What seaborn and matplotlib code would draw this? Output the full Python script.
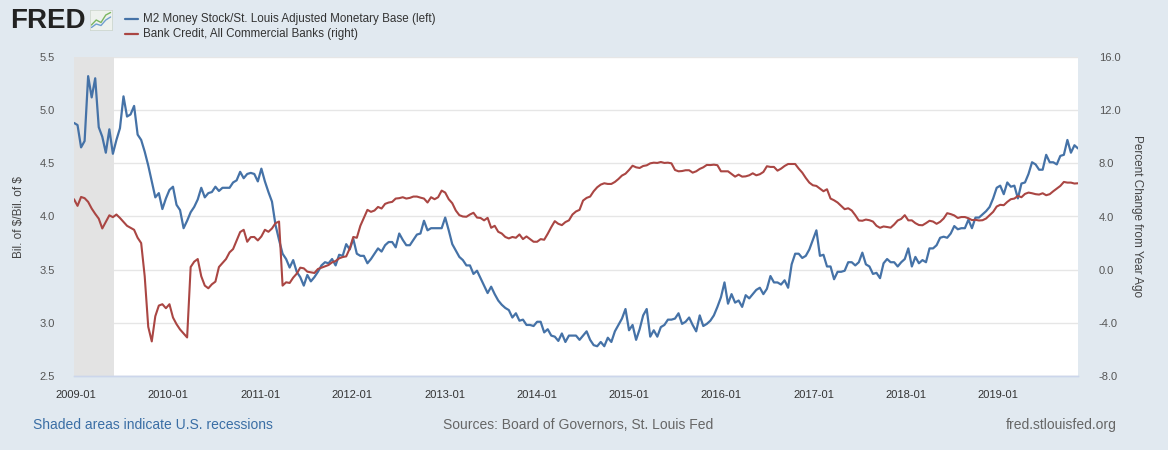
import matplotlib.pyplot as plt
import matplotlib.dates as mdates
from matplotlib.lines import Line2D
import pandas as pd
import seaborn as sns

# M2 / St. Louis adjusted monetary base, biweekly (left axis)
ratio_2009_10 = [4.88, 4.86, 4.65, 4.71, 5.32, 5.12, 5.30, 4.84, 4.75, 4.60,
                 4.82, 4.59, 4.72, 4.83, 5.13, 4.94, 4.96, 5.04, 4.77, 4.72,
                 4.61, 4.48, 4.33, 4.18, 4.22, 4.07, 4.17, 4.25, 4.28, 4.11,
                 4.06, 3.89, 3.96, 4.04, 4.09, 4.16, 4.27, 4.18, 4.22, 4.23,
                 4.28, 4.24, 4.27, 4.27, 4.27, 4.32, 4.34, 4.42, 4.36, 4.40,
                 4.41, 4.40, 4.33, 4.45]
ratio_2011_12 = [4.33, 4.23, 4.14, 3.92, 3.78, 3.65, 3.60, 3.52, 3.59, 3.48,
                 3.43, 3.35, 3.45, 3.39, 3.43, 3.48, 3.54, 3.57, 3.56, 3.60,
                 3.54, 3.64, 3.63, 3.74, 3.69, 3.79, 3.65, 3.63, 3.63, 3.56,
                 3.60, 3.65, 3.70, 3.67, 3.73, 3.76, 3.76, 3.71, 3.84, 3.78,
                 3.73, 3.73, 3.78, 3.83, 3.84, 3.96, 3.87, 3.89, 3.89, 3.89,
                 3.89, 3.99]
ratio_2013_14 = [3.87, 3.74, 3.68, 3.62, 3.59, 3.54, 3.54, 3.46, 3.49, 3.42,
                 3.35, 3.28, 3.34, 3.27, 3.21, 3.17, 3.14, 3.12, 3.05, 3.09,
                 3.02, 3.03, 2.98, 2.98, 2.97, 3.01, 3.01, 2.91, 2.94, 2.88,
                 2.87, 2.83, 2.90, 2.82, 2.88, 2.88, 2.88, 2.84, 2.88, 2.92,
                 2.84, 2.79, 2.78, 2.82, 2.78, 2.86, 2.82, 2.92, 2.98, 3.04,
                 3.13, 2.93]
ratio_2015_16 = [2.98, 2.84, 2.94, 3.07, 3.13, 2.87, 2.93, 2.87, 2.96, 2.98,
                 3.03, 3.03, 3.04, 3.09, 2.99, 3.01, 3.05, 2.98, 2.92, 3.07,
                 2.97, 2.99, 3.02, 3.07, 3.15, 3.24, 3.38, 3.18, 3.27, 3.19,
                 3.21, 3.15, 3.26, 3.23, 3.27, 3.31, 3.33, 3.27, 3.32, 3.44,
                 3.38, 3.38, 3.36, 3.40, 3.33, 3.55, 3.65, 3.65, 3.61, 3.63,
                 3.69, 3.78]
ratio_2017_18 = [3.87, 3.63, 3.64, 3.53, 3.53, 3.41, 3.48, 3.48, 3.49, 3.57,
                 3.57, 3.54, 3.57, 3.66, 3.55, 3.53, 3.46, 3.47, 3.42, 3.56,
                 3.60, 3.57, 3.57, 3.53, 3.57, 3.60, 3.70, 3.53, 3.62, 3.56,
                 3.59, 3.57, 3.70, 3.70, 3.73, 3.80, 3.81, 3.80, 3.84, 3.91,
                 3.88, 3.89, 3.89, 3.97, 3.89, 3.99, 3.99, 4.02, 4.05, 4.09,
                 4.17]
ratio_2019 = [4.27, 4.29, 4.21, 4.32, 4.28, 4.29, 4.17, 4.31, 4.32, 4.40,
              4.51, 4.49, 4.44, 4.44, 4.58, 4.51, 4.51, 4.49, 4.57, 4.58,
              4.72, 4.60, 4.67, 4.64]

# Bank credit, all commercial banks, % change from year ago (right axis)
credit_2009_10 = [5.30, 4.80, 5.47, 5.38, 5.10, 4.60, 4.20, 3.84, 3.10, 3.60,
                  4.09, 3.95, 4.15, 3.89, 3.59, 3.30, 3.15, 3.00, 2.40, 2.00,
                  -0.50, -4.30, -5.40, -3.50, -2.70, -2.60, -2.90, -2.60, -3.60, -4.10,
                  -4.50, -4.80, -5.10, 0.20, 0.60, 0.80, -0.50, -1.20, -1.40, -1.10,
                  -0.90, 0.20, 0.50, 0.80, 1.30, 1.55, 2.20, 2.83, 3.00, 2.10,
                  2.45, 2.46, 2.20]
credit_2011_12 = [2.50, 3.00, 2.85, 3.10, 3.50, 3.62, -1.20, -0.95, -1.00, -0.60,
                  -0.30, 0.15, 0.10, -0.15, -0.20, -0.25, 0.05, 0.15, 0.25, 0.35,
                  0.55, 0.65, 0.85, 0.95, 1.00, 1.60, 2.46, 2.40, 3.30, 3.90,
                  4.50, 4.35, 4.45, 4.72, 4.60, 4.95, 5.05, 5.10, 5.35, 5.38,
                  5.45, 5.35, 5.40, 5.50, 5.50, 5.42, 5.35, 5.05, 5.45, 5.30,
                  5.45, 5.95, 5.80]
credit_2013_14 = [5.30, 5.00, 4.45, 4.10, 4.00, 3.98, 4.15, 4.28, 3.92, 3.89,
                  3.71, 3.90, 3.15, 3.30, 2.85, 2.72, 2.46, 2.35, 2.46, 2.40,
                  2.65, 2.30, 2.50, 2.30, 2.10, 2.10, 2.30, 2.25, 2.70, 3.20,
                  3.65, 3.45, 3.35, 3.58, 3.71, 4.15, 4.38, 4.50, 5.20, 5.40,
                  5.50, 5.90, 6.20, 6.40, 6.50, 6.45, 6.45, 6.60, 6.82, 7.08,
                  7.22, 7.50]
credit_2015_16 = [7.82, 7.70, 7.65, 7.80, 7.85, 8.00, 8.05, 8.03, 8.10, 8.03,
                  8.05, 8.00, 7.50, 7.40, 7.42, 7.48, 7.48, 7.30, 7.40, 7.58,
                  7.70, 7.88, 7.87, 7.90, 7.86, 7.40, 7.40, 7.40, 7.20, 7.00,
                  7.15, 7.00, 7.02, 7.10, 7.25, 7.10, 7.18, 7.35, 7.78, 7.73,
                  7.73, 7.45, 7.60, 7.80, 7.95, 7.95, 7.95, 7.60, 7.30, 6.90,
                  6.55, 6.35]
credit_2017_18 = [6.30, 6.10, 5.90, 6.05, 5.35, 5.22, 5.05, 4.80, 4.55, 4.62,
                  4.45, 4.10, 3.70, 3.68, 3.77, 3.72, 3.62, 3.30, 3.15, 3.25,
                  3.21, 3.16, 3.40, 3.70, 3.82, 4.10, 3.71, 3.71, 3.50, 3.36,
                  3.34, 3.50, 3.68, 3.62, 3.45, 3.60, 3.85, 4.25, 4.18, 4.08,
                  3.89, 3.96, 3.96, 3.87, 3.73, 3.75, 3.70, 3.72, 3.85, 4.10,
                  4.35]
credit_2019 = [4.75, 4.88, 4.85, 5.10, 5.30, 5.35, 5.55, 5.45, 5.70, 5.80,
               5.75, 5.68, 5.65, 5.75, 5.60, 5.68, 5.90, 6.10, 6.30, 6.60,
               6.55, 6.55, 6.48, 6.50]

ratio = (ratio_2009_10 + ratio_2011_12 + ratio_2013_14 + ratio_2015_16
         + ratio_2017_18 + ratio_2019)
credit = (credit_2009_10 + credit_2011_12 + credit_2013_14 + credit_2015_16
          + credit_2017_18 + credit_2019)

first_date = "2008-12-25"
recession = ("2008-12-25", "2009-06-01")
left_ticks = [2.5, 3.0, 3.5, 4.0, 4.5, 5.0, 5.5]
right_ticks = [-8, -4, 0, 4, 8, 12, 16]

df = pd.DataFrame({
    "date": pd.date_range(first_date, periods=len(ratio), freq="14D"),
    "ratio": ratio,
    "credit": credit,
})

BLUE = "#4572a7"
RED = "#aa4643"
BG = "#e1e9f0"

sns.set_theme(style="white")
plt.rcParams["font.family"] = ["Liberation Sans", "DejaVu Sans"]

W, H = 1168, 450
fig = plt.figure(figsize=(W / 100, H / 100), dpi=100, facecolor=BG)
ax = fig.add_axes([74 / W, 74 / H, 1004 / W, 319 / H])
ax.set_facecolor("white")
ax2 = ax.twinx()

ax.axvspan(pd.Timestamp(recession[0]), pd.Timestamp(recession[1]),
           color="#e3e3e3", zorder=1, lw=0)

sns.lineplot(data=df, x="date", y="ratio", ax=ax, color=BLUE, lw=1.6, zorder=3)
sns.lineplot(data=df, x="date", y="credit", ax=ax2, color=RED, lw=1.5, zorder=3)

ax.set_xlim(df["date"].iloc[0], df["date"].iloc[-1])
ax.set_ylim(2.5, 5.5)
ax2.set_ylim(-8, 16)
ax.set_yticks(left_ticks)
ax.set_yticklabels([f"{v:.1f}" for v in left_ticks])
ax2.set_yticks(right_ticks)
ax2.set_yticklabels([f"{v:.1f}" for v in right_ticks])

ax.set_axisbelow(True)
ax.yaxis.grid(True, color="#e6e6e6", lw=1)
ax.xaxis.grid(False)

ax.xaxis.set_major_locator(mdates.YearLocator())
ax.xaxis.set_major_formatter(mdates.DateFormatter("%Y-%m"))

for a in (ax, ax2):
    for side in ("top", "left", "right"):
        a.spines[side].set_visible(False)
    a.spines["bottom"].set_color("#ccd6eb")
    a.spines["bottom"].set_linewidth(1)
    a.set_xlabel("")

ax.tick_params(axis="x", direction="out", length=7, width=1, color="#ccd6eb",
               labelsize=8, labelcolor="#333333", pad=3)
ax.tick_params(axis="y", length=0, labelsize=8, labelcolor="#555555", pad=14)
ax2.tick_params(axis="y", length=0, labelsize=8, labelcolor="#555555", pad=15)

ax.set_ylabel("Bil. of \\$/Bil. of \\$", fontsize=8.5, color="#444444", labelpad=10)
ax2.set_ylabel("Percent Change from Year Ago", fontsize=8.5, color="#444444",
               rotation=270, labelpad=16)

# header: FRED mark and legend
fig.text(10 / W, 1 - 21 / H, "FRED", fontsize=20, fontweight="bold",
         color="#222222", va="center", ha="left")
icon = fig.add_axes([90 / W, 1 - 30 / H, 22 / W, 20 / H])
icon.set_facecolor("#eef2ee")
icon.plot([0, 1, 2, 3, 4], [1, 2, 1.5, 3, 3.5], color="#7bb661", lw=1)
icon.plot([0, 1, 2, 3, 4], [0.5, 1.2, 0.9, 2, 2.6], color="#6f9fd0", lw=1)
icon.set_xlim(-0.3, 4.3)
icon.set_ylim(0, 4)
icon.set_xticks([])
icon.set_yticks([])
for s in icon.spines.values():
    s.set_color("#cfd8cf")
    s.set_linewidth(0.6)

legend_rows = [(BLUE, "M2 Money Stock/St. Louis Adjusted Monetary Base (left)", 19),
               (RED, "Bank Credit, All Commercial Banks (right)", 34)]
for col, label, ypx in legend_rows:
    fig.add_artist(Line2D([125 / W, 138 / W], [1 - ypx / H, 1 - ypx / H],
                          color=col, lw=1.6, transform=fig.transFigure))
    fig.text(143 / W, 1 - ypx / H, label, fontsize=8.4, color="#333333",
             va="center", ha="left")

# footer
fig.text(33 / W, 1 - 425 / H, "Shaded areas indicate U.S. recessions",
         fontsize=10, color="#3a6ea5", va="center", ha="left")
fig.text(443 / W, 1 - 425 / H, "Sources: Board of Governors, St. Louis Fed",
         fontsize=10, color="#666666", va="center", ha="left")
fig.text(1117 / W, 1 - 425 / H, "fred.stlouisfed.org",
         fontsize=10, color="#666666", va="center", ha="right")

fig.savefig("out.png", dpi=100, facecolor=BG)
